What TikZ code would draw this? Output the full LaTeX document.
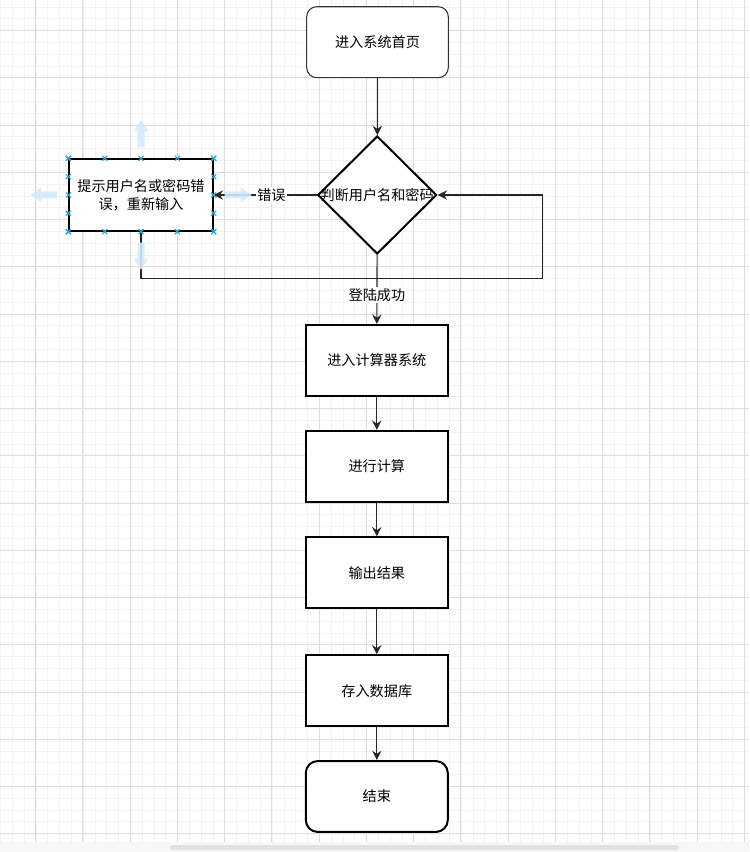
\documentclass[tikz,border=0pt]{standalone}
\usepackage{fontspec}
\newfontfamily\cjk{Noto Sans CJK SC}
\usetikzlibrary{positioning, calc, shapes.geometric, arrows.meta}
\definecolor{gridminor}{HTML}{F2F2F2}
\definecolor{gridmajor}{HTML}{DDDDDD}
\definecolor{selblue}{HTML}{D3EBFA}
\definecolor{selmark}{HTML}{29ABE2}
\definecolor{barback}{HTML}{F7F7F7}
\definecolor{barthumb}{HTML}{E2E2E2}

\begin{document}
\begin{tikzpicture}[x=0.75pt, y=-0.75pt,
  every node/.style={font=\cjk\fontsize{10.6pt}{13.3pt}\selectfont},
  box/.style={draw, fill=white, minimum width=106.5pt, minimum height=53.2pt, inner sep=0pt},
  procbox/.style={box, line width=1.5pt},
  startbox/.style={box, rounded corners=7.5pt, line width=0.8pt, draw=black!80},
  endbox/.style={box, rounded corners=9pt, line width=1.5pt},
  decision/.style={diamond, draw, fill=white, line width=1.5pt, minimum width=89.2pt, minimum height=88.5pt, inner sep=0pt},
  line/.style={-{Stealth[length=7pt,width=7pt,inset=2.4pt]}, line width=0.8pt, draw=black!85},
  lbl/.style={fill=white, inner sep=1pt},
  selx/.style={selmark, line width=0.8pt}]
\useasboundingbox (0,0) rectangle (749,852);
% grid
\foreach \gx in {0.6,12.41,...,749} \draw[gridminor, line width=0.75pt] (\gx,0) -- (\gx,842);
\foreach \gy in {7.08,18.89,...,842} \draw[gridminor, line width=0.75pt] (0,\gy) -- (749,\gy);
\foreach \gx in {35.7,82.94,...,749} \draw[gridmajor, line width=0.75pt] (\gx,0) -- (\gx,842);
\foreach \gy in {30.7,77.94,...,842} \draw[gridmajor, line width=0.75pt] (0,\gy) -- (749,\gy);
\fill[barback] (0,842) rectangle (749,852);
\fill[barthumb, rounded corners=2pt] (170,845) rectangle (679,850);

\node[startbox, minimum width=106.2pt] (home) at (377.5,42.2) {进入系统首页};
\node[decision, label=center:判断用户名和密码] (check) at (377.2,195) {};
\node[procbox, align=center, minimum width=107.5pt, minimum height=53.5pt] (wrong) at (141,195) {提示用户名或密码错\\误，重新输入};
\node[procbox] (calc) at (376.8,360.3) {进入计算器系统};
\node[procbox] (run) at (376.8,466.3) {进行计算};
\node[procbox] (out) at (376.8,572.8) {输出结果};
\node[procbox] (save) at (376.8,690.8) {存入数据库};
\node[endbox] (stop) at (376.8,796.5) {结束};
\coordinate (loopcorner) at (542.7,278.3);

\draw[line] (home) -- (check);
\draw[line] (check) -- node[lbl, pos=0.44] {错误} (wrong);
\draw[line] (wrong.south) |- (loopcorner) |- (check.east);
\draw[line] (check) -- node[lbl, pos=0.58] {登陆成功} (calc);
\draw[line] (calc) -- (run);
\draw[line] (run) -- (out);
\draw[line] (out) -- (save);
\draw[line] (save) -- (stop);

% selection handles
\foreach \ang/\anc in {90/north, 180/west, 0/east, 270/south}
  \fill[selblue, opacity=0.9, shift={(wrong.\anc)}, rotate=\ang] (11,-3.5) -- (27,-3.5) -- (27,-7.5) -- (38,0) -- (27,7.5) -- (27,3.5) -- (11,3.5) -- cycle;
\foreach \m in {0,0.25,0.5,0.75,1} {
  \draw[selx] ($(wrong.north west)!\m!(wrong.north east)$) ++(-2.5,-2.5) -- ++(5,5) ++(0,-5) -- ++(-5,5);
  \draw[selx] ($(wrong.south west)!\m!(wrong.south east)$) ++(-2.5,-2.5) -- ++(5,5) ++(0,-5) -- ++(-5,5);
  \draw[selx] ($(wrong.north west)!\m!(wrong.south west)$) ++(-2.5,-2.5) -- ++(5,5) ++(0,-5) -- ++(-5,5);
  \draw[selx] ($(wrong.north east)!\m!(wrong.south east)$) ++(-2.5,-2.5) -- ++(5,5) ++(0,-5) -- ++(-5,5);
}
\end{tikzpicture}
\end{document}
